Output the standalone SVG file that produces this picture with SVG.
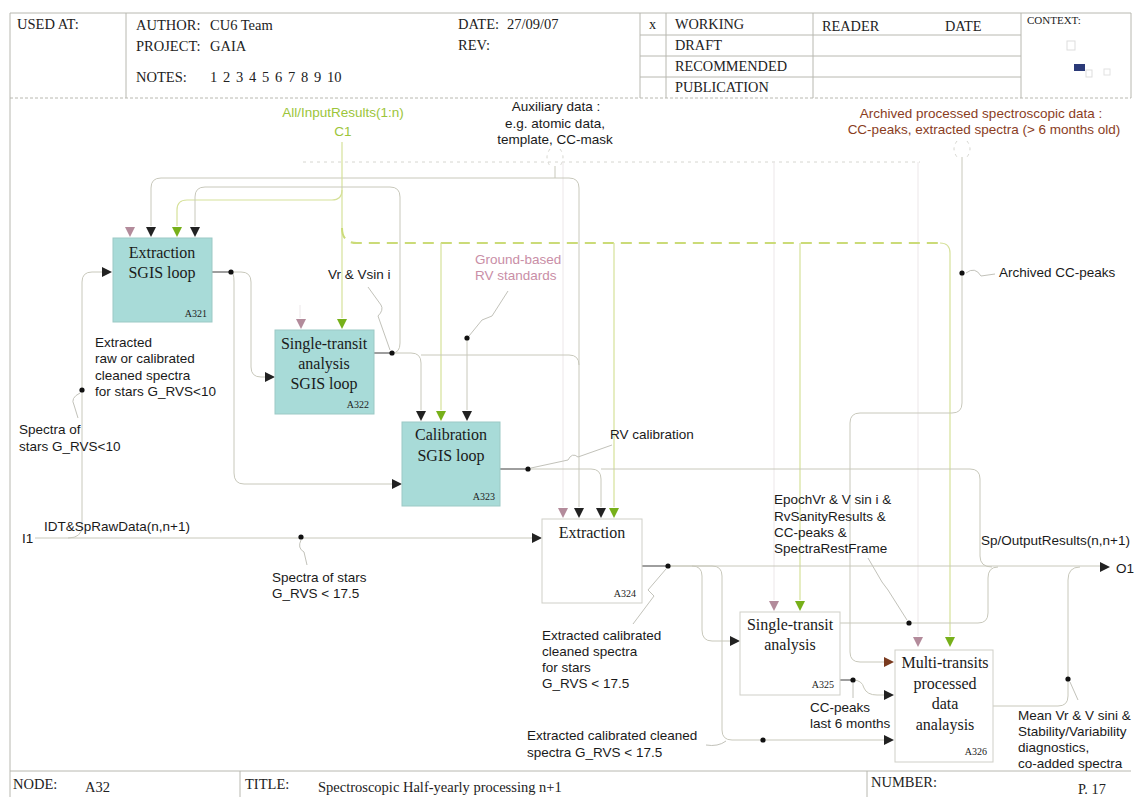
<svg xmlns="http://www.w3.org/2000/svg" width="1137" height="798" viewBox="0 0 1137 798">
<style>
.frame{fill:none;stroke:#b8b8b0;stroke-width:1}
.lb{font-family:"Liberation Sans",Arial,sans-serif;font-size:13.5px;fill:#1a1a1a}
.lbm{font-family:"Liberation Sans",Arial,sans-serif;font-size:13.5px;fill:#1a1a1a;text-anchor:middle}
.bx{font-family:"Liberation Serif","Times New Roman",serif;font-size:16px;fill:#1a1a1a;text-anchor:middle}
.id{font-family:"Liberation Serif","Times New Roman",serif;font-size:10px;fill:#222;text-anchor:end}
.hd{font-family:"Liberation Serif","Times New Roman",serif;font-size:14.5px;fill:#222}
.hs{font-family:"Liberation Serif","Times New Roman",serif;font-size:14.3px;fill:#222}
.teal{fill:#a8dbd8;stroke:#9cc9c5;stroke-width:1}
.white{fill:#fff;stroke:#cfcfc8;stroke-width:1}
.ln{fill:none;stroke:#c8c8bb;stroke-width:1}
.dk{fill:none;stroke:#6a6a6a;stroke-width:1.3}
.gr{fill:none;stroke:#d6e19a;stroke-width:1.2}
.grd{fill:none;stroke:#cbdb78;stroke-width:2;stroke-dasharray:11 7}
.pk{fill:none;stroke:#ece7e9;stroke-width:1}
.dt{fill:none;stroke:#d6d6d0;stroke-width:1;stroke-dasharray:3 4}
.ptr{fill:none;stroke:#c2c2ba;stroke-width:1}
.dot{fill:#111}
.tk{fill:#222}.tp{fill:#b38b9b}.tg{fill:#77b01a}.tb{fill:#7a3b20}
</style>
<defs>
<path id="dn" d="M-5,-5 H5 L0,5 Z"/>
<path id="rt" d="M-5,-5 L5,0 L-5,5 Z"/>
</defs>

<g id="frame">
<line class="frame" x1="10" y1="13" x2="10" y2="797"/>
<line class="frame" x1="10" y1="13" x2="1131" y2="13"/>
<line class="frame" x1="10" y1="98" x2="1131" y2="98" stroke-dasharray="3 2"/>
<line class="frame" x1="1131" y1="13" x2="1131" y2="98"/>
<line class="frame" x1="126" y1="13" x2="126" y2="98"/>
<line class="frame" x1="640" y1="13" x2="640" y2="98"/>
<line class="frame" x1="666" y1="13" x2="666" y2="98"/>
<line class="frame" x1="813" y1="13" x2="813" y2="98"/>
<line class="frame" x1="1021" y1="13" x2="1021" y2="98"/>
<line class="frame" x1="640" y1="35" x2="1021" y2="35"/>
<line class="frame" x1="640" y1="56" x2="1021" y2="56"/>
<line class="frame" x1="640" y1="77" x2="1021" y2="77"/>
<line class="frame" x1="10" y1="771" x2="1131" y2="771"/>
<line class="frame" x1="240" y1="771" x2="240" y2="797"/>
<line class="frame" x1="867" y1="771" x2="867" y2="797"/>
<text class="hd" x="17" y="29">USED AT:</text>
<text class="hd" x="136" y="30">AUTHOR:</text>
<text class="hd" x="210" y="30">CU6 Team</text>
<text class="hd" x="136" y="51">PROJECT:</text>
<text class="hd" x="210" y="51">GAIA</text>
<text class="hd" x="136" y="82">NOTES:</text>
<text class="hd" y="82"><tspan x="210">1</tspan><tspan x="223">2</tspan><tspan x="236">3</tspan><tspan x="249">4</tspan><tspan x="262">5</tspan><tspan x="275">6</tspan><tspan x="288">7</tspan><tspan x="301">8</tspan><tspan x="314">9</tspan><tspan x="327">10</tspan></text>
<text class="hd" x="458" y="29">DATE:</text>
<text class="hd" x="507" y="29">27/09/07</text>
<text class="hd" x="458" y="50">REV:</text>
<text class="hs" x="649" y="29">x</text>
<text class="hs" x="675" y="29">WORKING</text>
<text class="hs" x="675" y="50">DRAFT</text>
<text class="hs" x="675" y="71">RECOMMENDED</text>
<text class="hs" x="675" y="92">PUBLICATION</text>
<text class="hs" x="822" y="31">READER</text>
<text class="hs" x="945" y="31">DATE</text>
<text class="hd" x="1027" y="24" style="font-size:11px">CONTEXT:</text>
<rect x="1067" y="41" width="8" height="9" fill="none" stroke="#ddd" stroke-width="1"/>
<rect x="1074" y="64" width="11" height="7" fill="#2b3a78"/>
<rect x="1086" y="70" width="6" height="7" fill="none" stroke="#ddd" stroke-width="1"/>
<rect x="1104" y="69" width="6" height="6" fill="none" stroke="#e2e2e2" stroke-width="1"/>
<text class="hd" x="13" y="789">NODE:</text>
<text class="hd" x="85" y="792">A32</text>
<text class="hd" x="245" y="789">TITLE:</text>
<text class="hd" x="318" y="792">Spectroscopic Half-yearly processing n+1</text>
<text class="hd" x="871" y="787">NUMBER:</text>
<text class="hs" x="1078" y="794">P. 17</text>
</g>

<g id="connectors">
<line class="dt" x1="303" y1="162" x2="920" y2="162"/>
<path class="dt" d="M550,149 Q544,157 550,166 M560,149 Q566,157 560,166"/>
<path class="dt" d="M957,141 Q951,149 957,157 M967,141 Q973,149 967,157"/>
<path class="pk" d="M774,162 V600 M918,162 V636 M563,162 V507 M300,305 V318"/>
<path class="ln" d="M555,166 V178"/>
<path class="ln" d="M151,226 V188 Q151,178 161,178 H569 Q579,178 579,188 V507"/>
<path class="gr" d="M342,142 V318"/>
<path class="grd" d="M342,228 Q342,243 357,243 H940"/>
<path class="gr" d="M940,243 Q950,243 950,253 V636"/>
<path class="gr" d="M441,243 V410 M614,243 V507 M800,243 V600"/>
<path class="gr" d="M342,190 Q342,200 332,200 H187 Q177,200 177,210 V226"/>
<path class="dk" d="M212,272 H231"/>
<path class="ln" d="M231,272 H241 Q251,272 251,282 V367 Q251,377 261,377 H265"/>
<path class="ln" d="M231,272 Q234,272 234,282 V473 Q234,484 244,484 H392"/>
<path class="ln" d="M35,538 H532"/>
<path class="ln" d="M68,538 Q82,538 82,526 V282 Q82,272 92,272 H102"/>
<path class="dk" d="M374,353 H392"/>
<path class="ln" d="M392,353 Q400,353 400,343 V197 Q400,187 390,187 H205 Q195,187 195,197 V226"/>
<path class="ln" d="M392,353 H411 Q421,353 421,363 V410"/>
<path class="ln" d="M421,355 H569 Q579,355 579,365"/>
<path class="ln" d="M467,338 V410"/>
<path class="dk" d="M500,469 H528"/>
<path class="ln" d="M528,469 H591 Q601,469 601,479 V507"/>
<path class="ln" d="M601,469 H970 Q980,469 980,479 V556 Q980,567 992,567"/>
<path class="dk" d="M642,566 H668"/>
<path class="ln" d="M668,566 H1100"/>
<path class="ln" d="M668,566 H692 Q702,566 702,576 V630 Q702,641 712,641 H730"/>
<path class="ln" d="M692,566 H712 Q722,566 722,576 V730 Q722,740 732,740 H884"/>
<path class="ln" d="M840,623 H978 Q988,623 988,613 V578 Q988,567 998,567"/>
<path class="dk" d="M840,680 H853"/>
<path class="ln" d="M853,680 Q862,680 864,688 Q867,695 877,695 H884"/>
<path class="ln" d="M962,157 V403 Q962,413 952,413 H860 Q850,413 850,423 V652 Q850,662 860,662 H884"/>
<path class="ln" d="M993,706 H1058 Q1068,706 1068,696 V580 Q1068,567 1080,567"/>
<path class="ptr" d="M368,287 L381,305 Q384,310 378,316 L390,350"/>
<path class="ptr" d="M508,291 L492,316 L482,320 L469,336"/>
<path class="ptr" d="M612,445 L578,457 Q572,452 568,460 L531,468"/>
<path class="ptr" d="M80,393 Q70,398 74,405 L78,418"/>
<path class="ptr" d="M301,540 Q297,548 304,552 L307,565"/>
<path class="ptr" d="M633,624 L654,596 L648,590 L666,569"/>
<path class="ptr" d="M868,558 L882,582 L888,590 L907,620"/>
<path class="ptr" d="M966,273 Q975,266 981,276 L995,274"/>
<path class="ptr" d="M853,683 V698"/>
<path class="ptr" d="M1070,682 L1078,700"/>
<path class="ptr" d="M706,745 Q718,747 726,741"/>
<circle class="dot" cx="231" cy="272" r="2.6"/>
<circle class="dot" cx="82" cy="390" r="2.6"/>
<circle class="dot" cx="392" cy="353" r="2.6"/>
<circle class="dot" cx="467" cy="338" r="2.6"/>
<circle class="dot" cx="528" cy="469" r="2.6"/>
<circle class="dot" cx="301" cy="537" r="2.6"/>
<circle class="dot" cx="668" cy="566" r="2.6"/>
<circle class="dot" cx="962" cy="273" r="2.6"/>
<circle class="dot" cx="909" cy="623" r="2.6"/>
<circle class="dot" cx="853" cy="680" r="2.6"/>
<circle class="dot" cx="763" cy="740" r="2.6"/>
<circle class="dot" cx="1068" cy="679" r="2.6"/>
<use href="#dn" class="tp" x="130" y="232"/>
<use href="#dn" class="tk" x="151" y="232"/>
<use href="#dn" class="tg" x="177" y="232"/>
<use href="#dn" class="tk" x="195" y="232"/>
<use href="#dn" class="tp" x="301" y="324"/>
<use href="#dn" class="tg" x="342" y="324"/>
<use href="#dn" class="tk" x="421" y="416"/>
<use href="#dn" class="tg" x="441" y="416"/>
<use href="#dn" class="tk" x="467" y="416"/>
<use href="#dn" class="tp" x="563" y="513"/>
<use href="#dn" class="tk" x="579" y="513"/>
<use href="#dn" class="tk" x="601" y="513"/>
<use href="#dn" class="tg" x="614" y="513"/>
<use href="#dn" class="tp" x="774" y="606"/>
<use href="#dn" class="tg" x="800" y="606"/>
<use href="#dn" class="tp" x="918" y="642"/>
<use href="#dn" class="tg" x="950" y="642"/>
<use href="#rt" class="tk" x="107" y="272"/>
<use href="#rt" class="tk" x="270" y="377"/>
<use href="#rt" class="tk" x="397" y="484"/>
<use href="#rt" class="tk" x="537" y="538"/>
<use href="#rt" class="tk" x="735" y="641"/>
<use href="#rt" class="tb" x="889" y="662"/>
<use href="#rt" class="tk" x="889" y="695"/>
<use href="#rt" class="tk" x="889" y="740"/>
<use href="#rt" class="tk" x="1105" y="567"/>
</g>

<g id="A321">
<rect class="teal" x="113" y="238" width="99" height="84"/>
<text class="bx" x="162" y="258">Extraction</text>
<text class="bx" x="162" y="278">SGIS loop</text>
<text class="id" x="207" y="317">A321</text>
</g>
<g id="A322">
<rect class="teal" x="275" y="330" width="99" height="84"/>
<text class="bx" x="324" y="349">Single-transit</text>
<text class="bx" x="324" y="369">analysis</text>
<text class="bx" x="324" y="389">SGIS loop</text>
<text class="id" x="369" y="408">A322</text>
</g>
<g id="A323">
<rect class="teal" x="402" y="422" width="98" height="84"/>
<text class="bx" x="451" y="440">Calibration</text>
<text class="bx" x="451" y="461">SGIS loop</text>
<text class="id" x="495" y="500">A323</text>
</g>
<g id="A324">
<rect class="white" x="542" y="519" width="100" height="84"/>
<text class="bx" x="592" y="538">Extraction</text>
<text class="id" x="636" y="597">A324</text>
</g>
<g id="A325">
<rect class="white" x="740" y="612" width="100" height="83"/>
<text class="bx" x="790" y="630">Single-transit</text>
<text class="bx" x="790" y="650">analysis</text>
<text class="id" x="834" y="688">A325</text>
</g>
<g id="A326">
<rect class="white" x="895" y="650" width="98" height="112"/>
<text class="bx" x="945" y="668">Multi-transits</text>
<text class="bx" x="945" y="689">processed</text>
<text class="bx" x="945" y="709">data</text>
<text class="bx" x="945" y="730">analaysis</text>
<text class="id" x="987" y="755">A326</text>
</g>

<g id="labels">
<text class="lbm" x="343" y="117" style="fill:#9cc53a">All/InputResults(1:n)</text>
<text class="lbm" x="343" y="136" style="fill:#9cc53a">C1</text>
<text class="lbm" x="556" y="111">Auxiliary data :</text>
<text class="lbm" x="555" y="128">e.g. atomic data,</text>
<text class="lbm" x="555" y="144">template, CC-mask</text>
<text class="lbm" x="981" y="118" style="fill:#8a3d1e">Archived processed spectroscopic data :</text>
<text class="lbm" x="984" y="134" style="fill:#8a3d1e">CC-peaks, extracted spectra (&gt; 6 months old)</text>
<text class="lb" x="328" y="279">Vr &amp; Vsin i</text>
<text class="lb" x="475" y="264" style="fill:#c98ea6">Ground-based</text>
<text class="lb" x="475" y="280" style="fill:#c98ea6">RV standards</text>
<text class="lb" x="999" y="277">Archived CC-peaks</text>
<text class="lb" x="95" y="347">Extracted</text>
<text class="lb" x="95" y="363">raw or calibrated</text>
<text class="lb" x="95" y="380">cleaned spectra</text>
<text class="lb" x="95" y="396">for stars G_RVS&lt;10</text>
<text class="lb" x="19" y="434">Spectra of</text>
<text class="lb" x="19" y="451">stars G_RVS&lt;10</text>
<text class="lb" x="610" y="439">RV calibration</text>
<text class="lb" x="44" y="531">IDT&amp;SpRawData(n,n+1)</text>
<text class="lb" x="22" y="543">I1</text>
<text class="lb" x="272" y="582">Spectra of stars</text>
<text class="lb" x="272" y="598">G_RVS &lt; 17.5</text>
<text class="lb" x="774" y="504">EpochVr &amp; V sin i &amp;</text>
<text class="lb" x="774" y="521">RvSanityResults &amp;</text>
<text class="lb" x="774" y="537">CC-peaks &amp;</text>
<text class="lb" x="774" y="553">SpectraRestFrame</text>
<text class="lb" x="981" y="545">Sp/OutputResults(n,n+1)</text>
<text class="lb" x="1116" y="573">O1</text>
<text class="lb" x="542" y="640">Extracted calibrated</text>
<text class="lb" x="542" y="656">cleaned spectra</text>
<text class="lb" x="542" y="672">for stars</text>
<text class="lb" x="542" y="688">G_RVS &lt; 17.5</text>
<text class="lb" x="527" y="740">Extracted calibrated cleaned</text>
<text class="lb" x="527" y="757">spectra G_RVS &lt; 17.5</text>
<text class="lb" x="810" y="712">CC-peaks</text>
<text class="lb" x="810" y="728">last 6 months</text>
<text class="lb" x="1018" y="720">Mean Vr &amp; V sini &amp;</text>
<text class="lb" x="1018" y="736">Stability/Variability</text>
<text class="lb" x="1018" y="752">diagnostics,</text>
<text class="lb" x="1018" y="768">co-added spectra</text>
</g>
</svg>
